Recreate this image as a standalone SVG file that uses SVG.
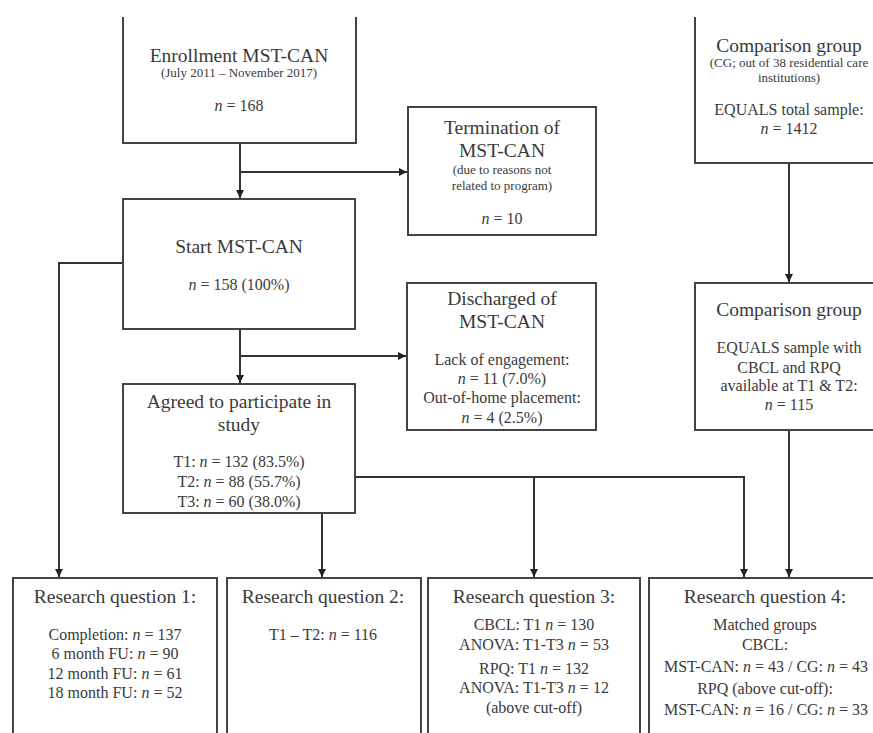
<svg xmlns="http://www.w3.org/2000/svg" width="873" height="733" viewBox="0 0 873 733" font-family="'Liberation Serif', 'Times New Roman', 'DejaVu Serif', serif">
<style>
  .box { fill: #ffffff; stroke: #444444; stroke-width: 2; }
  .conn { fill: none; stroke: #333333; stroke-width: 2; }
  text { font-family: 'Liberation Serif', 'Times New Roman', Tinos, 'DejaVu Serif', serif; fill: #3a3a3a; text-anchor: middle; }
  .t { font-size: 19.5px; }
  .b { font-size: 16px; }
  .s { font-size: 13px; }
  .i { font-style: italic; }
</style>
<defs>
  <marker id="arr" markerUnits="userSpaceOnUse" markerWidth="9" markerHeight="9" refX="8" refY="4" orient="auto">
    <path d="M0,0 L8,4 L0,8 z" fill="#222222"/>
  </marker>
</defs>
<rect x="0" y="0" width="873" height="733" fill="#ffffff"/>

<g id="connectors">
  <path class="conn" d="M240,143 V198" marker-end="url(#arr)"/>
  <path class="conn" d="M240,172 H407" marker-end="url(#arr)"/>
  <path class="conn" d="M123,263 H59 V577" marker-end="url(#arr)"/>
  <path class="conn" d="M240,329 V383" marker-end="url(#arr)"/>
  <path class="conn" d="M240,356 H406" marker-end="url(#arr)"/>
  <path class="conn" d="M322,513 V577" marker-end="url(#arr)"/>
  <path class="conn" d="M355,477 H744 V577" marker-end="url(#arr)"/>
  <path class="conn" d="M534,477 V577" marker-end="url(#arr)"/>
  <path class="conn" d="M789,163 V282" marker-end="url(#arr)"/>
  <path class="conn" d="M789,430 V577" marker-end="url(#arr)"/>
</g>

<g id="enrollment">
  <path d="M123,17 V143 H356 V17" fill="#ffffff" stroke="#444444" stroke-width="2"/>
  <text class="t" x="239" y="62">Enrollment MST-CAN</text>
  <text class="s" x="239" y="77">(July 2011 – November 2017)</text>
  <text class="b" x="239" y="111"><tspan class="i">n</tspan> = 168</text>
</g>

<g id="termination">
  <rect class="box" x="408" y="107" width="188" height="128"/>
  <text class="t" x="502" y="134">Termination of</text>
  <text class="t" x="502" y="157">MST-CAN</text>
  <text class="s" x="502" y="174">(due to reasons not</text>
  <text class="s" x="502" y="190">related to program)</text>
  <text class="b" x="502" y="224"><tspan class="i">n</tspan> = 10</text>
</g>

<g id="comparison1">
  <path d="M695,17 V163 H880" fill="#ffffff" stroke="#444444" stroke-width="2"/>
  <text class="t" x="789" y="52">Comparison group</text>
  <text class="s" x="789" y="67">(CG; out of 38 residential care</text>
  <text class="s" x="789" y="82">institutions)</text>
  <text class="b" x="789" y="115">EQUALS total sample:</text>
  <text class="b" x="789" y="134"><tspan class="i">n</tspan> = 1412</text>
</g>

<g id="start">
  <rect class="box" x="123" y="199" width="232" height="130"/>
  <text class="t" x="239" y="253">Start MST-CAN</text>
  <text class="b" x="239" y="290"><tspan class="i">n</tspan> = 158 (100%)</text>
</g>

<g id="discharged">
  <rect class="box" x="407" y="283" width="189" height="147"/>
  <text class="t" x="502" y="305">Discharged of</text>
  <text class="t" x="502" y="328">MST-CAN</text>
  <text class="b" x="502" y="365">Lack of engagement:</text>
  <text class="b" x="502" y="384"><tspan class="i">n</tspan> = 11 (7.0%)</text>
  <text class="b" x="502" y="403">Out-of-home placement:</text>
  <text class="b" x="502" y="423"><tspan class="i">n</tspan> = 4 (2.5%)</text>
</g>

<g id="comparison2">
  <rect class="box" x="695" y="283" width="190" height="147"/>
  <text class="t" x="789" y="316">Comparison group</text>
  <text class="b" x="789" y="353">EQUALS sample with</text>
  <text class="b" x="789" y="373">CBCL and RPQ</text>
  <text class="b" x="789" y="391">available at T1 &amp; T2:</text>
  <text class="b" x="789" y="410"><tspan class="i">n</tspan> = 115</text>
</g>

<g id="agreed">
  <rect class="box" x="123" y="384" width="232" height="129"/>
  <text class="t" x="239" y="408">Agreed to participate in</text>
  <text class="t" x="239" y="431">study</text>
  <text class="b" x="239" y="467">T1: <tspan class="i">n</tspan> = 132 (83.5%)</text>
  <text class="b" x="239" y="487">T2: <tspan class="i">n</tspan> = 88 (55.7%)</text>
  <text class="b" x="239" y="507">T3: <tspan class="i">n</tspan> = 60 (38.0%)</text>
</g>

<g id="rq1">
  <rect class="box" x="13" y="578" width="204" height="165"/>
  <text class="t" x="115" y="603">Research question 1:</text>
  <text class="b" x="115" y="640">Completion: <tspan class="i">n</tspan> = 137</text>
  <text class="b" x="115" y="659">6 month FU: <tspan class="i">n</tspan> = 90</text>
  <text class="b" x="115" y="679">12 month FU: <tspan class="i">n</tspan> = 61</text>
  <text class="b" x="115" y="698">18 month FU: <tspan class="i">n</tspan> = 52</text>
</g>

<g id="rq2">
  <rect class="box" x="227" y="578" width="194" height="165"/>
  <text class="t" x="323" y="603">Research question 2:</text>
  <text class="b" x="323" y="640">T1 – T2: <tspan class="i">n</tspan> = 116</text>
</g>

<g id="rq3">
  <rect class="box" x="428" y="578" width="212" height="165"/>
  <text class="t" x="534" y="603">Research question 3:</text>
  <text class="b" x="534" y="630">CBCL: T1 <tspan class="i">n</tspan> = 130</text>
  <text class="b" x="534" y="650">ANOVA: T1-T3 <tspan class="i">n</tspan> = 53</text>
  <text class="b" x="534" y="674">RPQ: T1 <tspan class="i">n</tspan> = 132</text>
  <text class="b" x="534" y="693">ANOVA: T1-T3 <tspan class="i">n</tspan> = 12</text>
  <text class="b" x="534" y="713">(above cut-off)</text>
</g>

<g id="rq4">
  <rect class="box" x="649" y="578" width="240" height="165"/>
  <text class="t" x="765" y="603">Research question 4:</text>
  <text class="b" x="765" y="630">Matched groups</text>
  <text class="b" x="765" y="650">CBCL:</text>
  <text class="b" x="766" y="672">MST-CAN: <tspan class="i">n</tspan> = 43 / CG: <tspan class="i">n</tspan> = 43</text>
  <text class="b" x="765" y="694">RPQ (above cut-off):</text>
  <text class="b" x="766" y="715">MST-CAN: <tspan class="i">n</tspan> = 16 / CG: <tspan class="i">n</tspan> = 33</text>
</g>
</svg>
